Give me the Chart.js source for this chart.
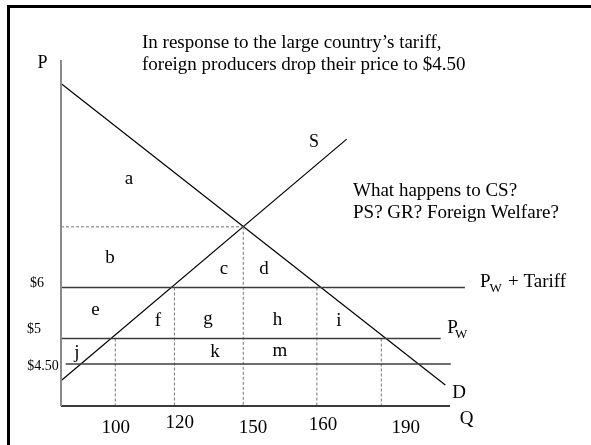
<!DOCTYPE html>
<html>
<head>
<meta charset="utf-8">
<script src="https://cdn.jsdelivr.net/npm/chart.js@4"></script>
<style>
html,body{margin:0;padding:0;background:#fff;}
#wrap{width:591px;height:445px;position:relative;}
</style>
</head>
<body>
<div id="wrap"><canvas id="c" width="591" height="445"></canvas></div>
<script>
// ---- data (schematic diagram, quantity axis not drawn to scale) ----
const qLabels = ['100', '120', '150', '160', '190'];
const qAt = [100, 120, 143.3, 168.2, 190];          // where each quantity sits on the drawn axis
const qDropFrom = [5, 6, 7.19, 6, 5];               // price each dashed drop line starts from
const priceLabels = ['$6', '$5', '$4.50'];
const prices = [6, 5, 4.5];
const priceLineQ = [[81.63, 218.3], [81.63, 210.1], [83.2, 213.5]];
const eqQ = 143.3, eqP = 7.19;
const demandQ = [81.63, 211.65], demandP = [10, 4.09];
const supplyQ = [81.63, 178.3], supplyP = [4.17, 8.91];
const qMin = 81.63, qMax = 240.65, pMin = 3.6765, pMax = 10.461;
const xAxisEnd = 213.24;

const seg = (xs, ys) => xs.map((x, i) => ({x: x, y: ys[i]}));
const datasets = [];
function addLine(pts, color, width, dash) {
  datasets.push({data: pts, showLine: true, borderColor: color, borderWidth: width,
    borderDash: dash || [], pointRadius: 0, clip: false, fill: false, tension: 0});
}
// axes
addLine(seg([qMin, qMin], [pMin, pMax]), '#8a8a8a', 2);
addLine(seg([qMin, xAxisEnd], [pMin, pMin]), '#3a3a3a', 2);
// price lines
prices.forEach((p, i) => addLine(seg(priceLineQ[i], [p, p]), '#3c3c3c', 1.6));
// dashed guides
addLine(seg([qMin, eqQ], [eqP, eqP]), '#777', 1, [3, 2]);
qAt.forEach((q, i) => addLine(seg([q, q], [qDropFrom[i], pMin]), '#777', 1, [3, 2]));
// demand & supply
addLine(seg(demandQ, demandP), '#000', 1.2);
addLine(seg(supplyQ, supplyP), '#000', 1.2);

const SERIF = '"Liberation Serif", "Times New Roman", serif';
const texts = [
  {t: 'In response to the large country\u2019s tariff,', x: 142, y: 47.5, a: 'left', s: 19},
  {t: 'foreign producers drop their price to $4.50', x: 142, y: 69.5, a: 'left', s: 19},
  {t: 'P', x: 42.5, y: 68, a: 'center', s: 18},
  {t: 'S', x: 314, y: 146.5, a: 'center', s: 18},
  {t: 'What happens to CS?', x: 353, y: 195.5, a: 'left', s: 19},
  {t: 'PS? GR? Foreign Welfare?', x: 353, y: 217.5, a: 'left', s: 19},
  {t: 'a', x: 129, y: 184, a: 'center', s: 19},
  {t: 'b', x: 110, y: 262.5, a: 'center', s: 19},
  {t: 'c', x: 224, y: 274, a: 'center', s: 19},
  {t: 'd', x: 264, y: 274, a: 'center', s: 19},
  {t: 'e', x: 95.5, y: 315, a: 'center', s: 19},
  {t: 'f', x: 158, y: 326, a: 'center', s: 19},
  {t: 'g', x: 208, y: 323.5, a: 'center', s: 19},
  {t: 'h', x: 277.5, y: 325, a: 'center', s: 19},
  {t: 'i', x: 339, y: 326, a: 'center', s: 19},
  {t: 'j', x: 77, y: 358, a: 'center', s: 19},
  {t: 'k', x: 215, y: 356.5, a: 'center', s: 19},
  {t: 'm', x: 280, y: 356, a: 'center', s: 19},
  {t: 'D', x: 459, y: 397.5, a: 'center', s: 19},
  {t: 'Q', x: 466.5, y: 424, a: 'center', s: 19},
  {t: 'P', x: 480, y: 287.3, a: 'left', s: 19},
  {t: 'W', x: 489.5, y: 292, a: 'left', s: 13},
  {t: '+ Tariff', x: 508, y: 287.3, a: 'left', s: 19},
  {t: 'P', x: 447.3, y: 332.7, a: 'left', s: 19},
  {t: 'W', x: 455, y: 338, a: 'left', s: 13}
];
const priceTextPos = [{x: 37, y: 287}, {x: 34, y: 333.3}, {x: 43, y: 370}];
const qTextPos = [{x: 115.7, y: 433.3}, {x: 179.7, y: 428.3}, {x: 253, y: 433.3}, {x: 323, y: 430}, {x: 405.8, y: 433.3}];

const deco = {
  id: 'deco',
  beforeDraw(chart) {
    const c = chart.ctx;
    c.save();
    c.fillStyle = '#fff';
    c.fillRect(0, 0, chart.width, chart.height);
    c.fillStyle = '#000';
    c.fillRect(7, 5, 3, chart.height - 5);
    c.fillRect(7, 5, chart.width - 7, 3);
    c.restore();
  },
  afterDraw(chart) {
    const c = chart.ctx;
    c.save();
    c.fillStyle = '#000';
    c.textBaseline = 'alphabetic';
    texts.forEach(o => {
      c.font = o.s + 'px ' + SERIF;
      c.textAlign = o.a;
      c.fillText(o.t, o.x, o.y);
    });
    c.font = '14px ' + SERIF;
    c.textAlign = 'center';
    priceLabels.forEach((t, i) => c.fillText(t, priceTextPos[i].x, priceTextPos[i].y));
    c.font = '19px ' + SERIF;
    qLabels.forEach((t, i) => c.fillText(t, qTextPos[i].x, qTextPos[i].y));
    c.restore();
  }
};

new Chart(document.getElementById('c'), {
  type: 'scatter',
  data: {datasets: datasets},
  options: {
    responsive: false,
    devicePixelRatio: 1,
    animation: false,
    events: [],
    layout: {padding: {left: 61, top: 60, right: 60, bottom: 39}},
    plugins: {legend: {display: false}, tooltip: {enabled: false}, title: {display: false}},
    scales: {
      x: {type: 'linear', display: false, min: qMin, max: qMax},
      y: {type: 'linear', display: false, min: pMin, max: pMax}
    }
  },
  plugins: [deco]
});
</script>
</body>
</html>
